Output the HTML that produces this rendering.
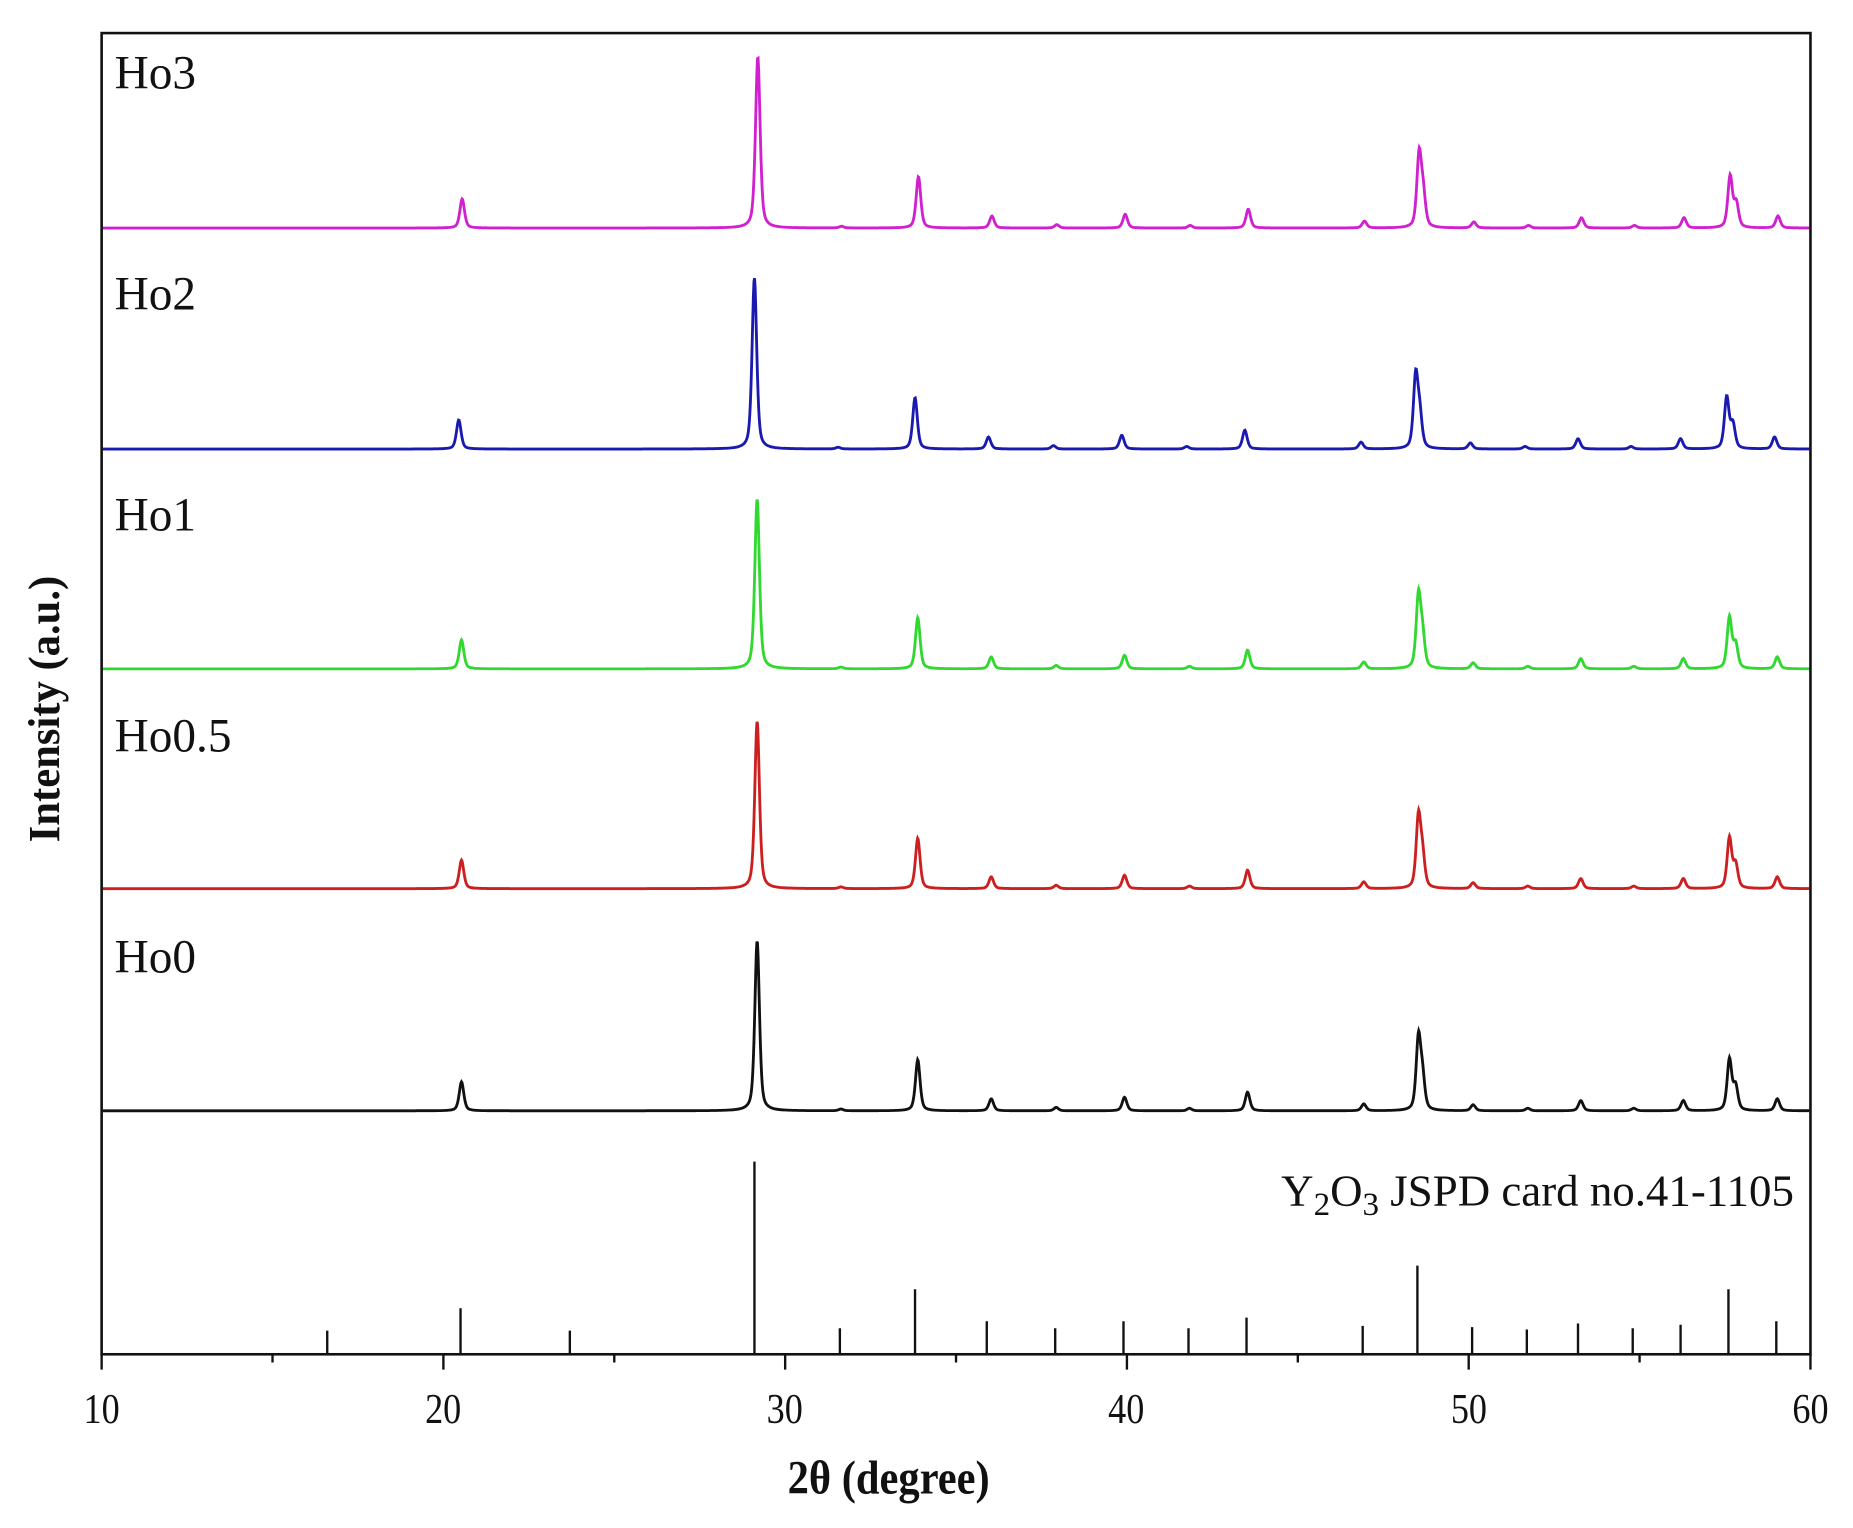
<!DOCTYPE html>
<html><head><meta charset="utf-8"><style>
html,body{margin:0;padding:0;background:#fff;width:1853px;height:1528px;overflow:hidden}
svg{display:block}
text{font-family:"Liberation Serif",serif;fill:#111}
</style></head><body>
<svg id="s" width="1853" height="1528" viewBox="0 0 1568 1293" preserveAspectRatio="none">
<g id="g"></g>
<rect x="86" y="28" width="1446" height="1118" fill="none" stroke="#111" stroke-width="2.2"/>
<text x="97" y="75" font-size="40">Ho3</text>
<text x="97" y="262" font-size="40">Ho2</text>
<text x="97" y="449" font-size="40">Ho1</text>
<text x="97" y="636" font-size="40">Ho0.5</text>
<text x="97" y="823" font-size="40">Ho0</text>
<text x="1518" y="1020" font-size="38" text-anchor="end">Y<tspan font-size="28" dy="8">2</tspan><tspan dy="-8">O</tspan><tspan font-size="28" dy="8">3</tspan><tspan dy="-8"> JSPD card no.41-1105</tspan></text>
<g font-size="36" text-anchor="middle">
<text transform="translate(86,1204) scale(0.85,1)">10</text><text transform="translate(375,1204) scale(0.85,1)">20</text><text transform="translate(664,1204) scale(0.85,1)">30</text>
<text transform="translate(953,1204) scale(0.85,1)">40</text><text transform="translate(1243,1204) scale(0.85,1)">50</text><text transform="translate(1532,1204) scale(0.85,1)">60</text>
</g>
<text transform="translate(752,1264) scale(0.9,1)" font-size="40" font-weight="bold" text-anchor="middle">2θ (degree)</text>
<text transform="translate(50,600) rotate(-90) scale(0.95,1)" font-size="38" font-weight="bold" text-anchor="middle">Intensity (a.u.)</text>
</svg>
<script>
var g=document.getElementById('g');
function X(t){return 86+(t-10)*28.92;}
var peaks=[[20.5,.17],[29.15,1],[31.6,.01],[33.85,.3],[36.0,.07],[37.9,.02],[39.9,.08],[41.8,.015],[43.5,.11],[46.9,.04],[48.5,.42],[48.62,.18],[50.1,.035],[51.7,.015],[53.25,.06],[54.8,.015],[56.25,.06],[57.6,.3],[57.78,.14],[59.0,.07]];
var series=[[193,'#d020d0',145,0.05],[380,'#1a1ab0',145,-0.05],[566,'#30d830',144,0.03],[752,'#cc2020',142,0.03],[940,'#111',144,0.03]];
var ns='http://www.w3.org/2000/svg';
series.forEach(function(s){
 var d='';
 for(var px=87;px<=1531;px+=0.5){
  var t=10+(px-86)/28.92,y=0;
  peaks.forEach(function(p){var w=0.08;var dx=(t-p[0]-s[3])/w;y+=p[1]*(0.5*Math.exp(-dx*dx*0.69)+0.5/(1+dx*dx));});
  d+=(d?'L':'M')+px.toFixed(1)+' '+(s[0]-y*s[2]).toFixed(1);
 }
 var e=document.createElementNS(ns,'path');e.setAttribute('d',d);e.setAttribute('fill','none');e.setAttribute('stroke',s[1]);e.setAttribute('stroke-width','2.4');g.appendChild(e);
});
var sticks=[[16.6,20],[20.5,39],[23.7,20],[29.1,163],[31.6,22],[33.8,55],[35.9,28],[37.9,22],[39.9,28],[41.8,22],[43.5,31],[46.9,24],[48.5,75],[50.1,23],[51.7,21],[53.2,26],[54.8,22],[56.2,25],[57.6,55],[59.0,28]];
var d='';
sticks.forEach(function(s){var x=X(s[0]).toFixed(1);d+='M'+x+' 1146L'+x+' '+(1146-s[1]);});
for(var t=10;t<=60;t+=5){var x=X(t).toFixed(1);d+='M'+x+' 1146L'+x+' '+(t%10?1153:1159);}
var e=document.createElementNS(ns,'path');e.setAttribute('d',d);e.setAttribute('stroke','#111');e.setAttribute('stroke-width','2');e.setAttribute('fill','none');g.appendChild(e);
</script>
</body></html>
